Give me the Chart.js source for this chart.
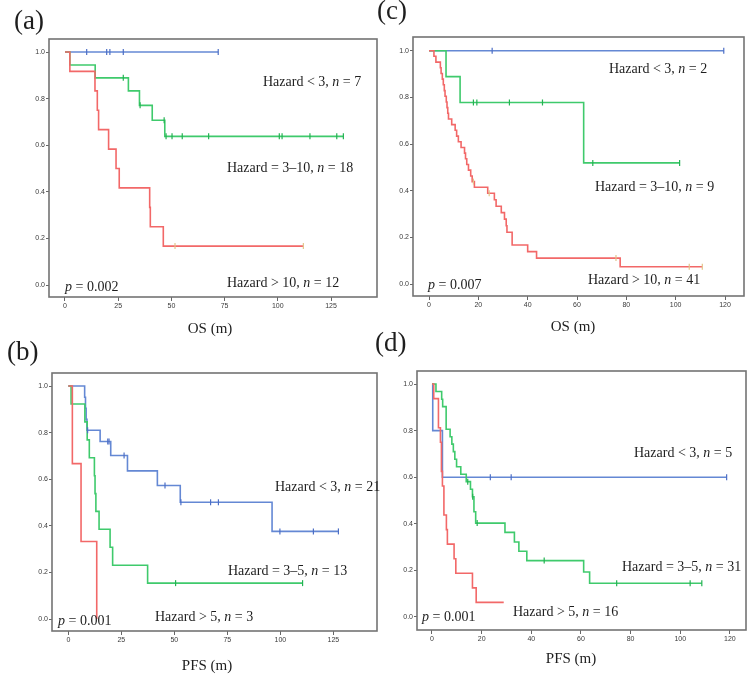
<!DOCTYPE html>
<html>
<head>
<meta charset="utf-8">
<script src="https://cdn.jsdelivr.net/npm/chart.js@4.4.0/dist/chart.umd.min.js"></script>
<style>
  body { margin: 0; background: #fff; }
  #wrap { position: relative; width: 753px; height: 677px; }
  #wrap canvas { position: absolute; left: 0; top: 0; }
</style>
</head>
<body>
<div id="wrap">
  <canvas id="pa" width="753" height="677"></canvas>
  <canvas id="pb" width="753" height="677"></canvas>
  <canvas id="pc" width="753" height="677"></canvas>
  <canvas id="pd" width="753" height="677"></canvas>
</div>
<script>
// tick labels
const yTickVals = [0, 0.2, 0.4, 0.6, 0.8, 1.0];
const xTicks125 = [0, 25, 50, 75, 100, 125];
const xTicks120 = [0, 20, 40, 60, 80, 100, 120];

// (a) OS, hazard groups <3 / 3-10 / >10
const aLowT = [0, 72];
const aLowS = [1, 1];
const aLowCens = [10.2, 19.6, 21.1, 27.4, 72];
const aMidT = [0, 2.3, 14.2, 29.8, 35.0, 41.0, 46.9, 130.8];
const aMidS = [1, 0.944, 0.889, 0.833, 0.771, 0.707, 0.638, 0.638];
const aMidCens = [27.4, 35.3, 46.6, 47.5, 50.3, 55.1, 67.5, 100.7, 102.0, 115.1, 127.7, 130.8];
const aHighT = [0, 2.3, 14.1, 15.2, 15.8, 20.5, 24.0, 25.5, 39.8, 40.1, 46.2, 112];
const aHighS = [1, 0.917, 0.833, 0.75, 0.667, 0.583, 0.5, 0.417, 0.333, 0.25, 0.167, 0.167];
const aHighCens = [51.7, 112];

// (b) PFS, hazard groups <3 / 3-5 / >5
const bLowT = [0, 7.7, 8.1, 8.4, 8.8, 15.0, 20.0, 27.9, 42.0, 52.8, 96.1, 127.4];
const bLowS = [1, 0.952, 0.905, 0.857, 0.810, 0.762, 0.702, 0.636, 0.573, 0.501, 0.376, 0.376];
const bLowCens = [9.1, 18.6, 19.2, 26.3, 45.6, 53.1, 67.1, 70.8, 99.8, 115.6, 127.4];
const bMidT = [0, 1.3, 7.8, 8.9, 9.9, 12.3, 12.6, 13.0, 14.5, 19.7, 20.9, 37.4, 110.5];
const bMidS = [1, 0.923, 0.846, 0.769, 0.692, 0.615, 0.538, 0.462, 0.385, 0.308, 0.231, 0.154, 0.154];
const bMidCens = [50.6, 110.5];
const bHighT = [0, 1.9, 6.0, 13.4];
const bHighS = [1, 0.667, 0.333, 0];
const bHighCens = [];

// (c) OS, hazard groups <3 / 3-10 / >10
const cLowT = [0, 119.5];
const cLowS = [1, 1];
const cLowCens = [25.6, 119.5];
const cMidT = [0, 6.9, 12.6, 62.7, 101.6];
const cMidS = [1, 0.889, 0.778, 0.519, 0.519];
const cMidCens = [18.0, 19.4, 32.6, 46.0, 66.4, 101.6];
const cHighT = [0, 2.0, 2.8, 4.6, 4.9, 5.4, 5.8, 6.2, 6.5, 7.0, 7.3, 7.6, 7.9, 9.2, 10.6, 11.2, 11.9, 13.0, 14.4, 14.8,
  15.3, 16.0, 16.9, 17.5, 18.4, 23.8, 26.5, 27.2, 29.3, 30.6, 31.3, 31.6, 33.7, 40.0, 43.6, 77.5, 110.8];
const cHighS = [1, 0.976, 0.951, 0.927, 0.902, 0.878, 0.854, 0.829, 0.805, 0.780, 0.756, 0.732, 0.707, 0.683, 0.659, 0.634, 0.610, 0.585, 0.561, 0.537,
  0.512, 0.488, 0.463, 0.439, 0.415, 0.389, 0.361, 0.333, 0.306, 0.278, 0.250, 0.222, 0.167, 0.139, 0.111, 0.074, 0.074];
const cHighCens = [18.0, 24.4, 75.8, 105.5, 110.8];

// (d) PFS, hazard groups <3 / 3-5 / >5
const dLowT = [0, 0.3, 4.2, 118.7];
const dLowS = [1, 0.8, 0.6, 0.6];
const dLowCens = [23.5, 31.9, 118.7];
const dMidT = [0, 1.6, 3.9, 4.3, 5.7, 7.3, 8.0, 8.6, 9.2, 9.9, 11.6, 13.8, 15.5, 16.3, 16.9, 17.6, 29.4, 33.2, 35.0, 38.2, 61.1, 63.5, 108.7];
const dMidS = [1, 0.968, 0.935, 0.903, 0.806, 0.774, 0.742, 0.710, 0.677, 0.645, 0.613, 0.581, 0.548, 0.516, 0.452, 0.403, 0.363, 0.322, 0.282, 0.242, 0.193, 0.145, 0.145];
const dMidCens = [14.4, 16.4, 18.2, 45.2, 74.4, 104.0, 108.7];
const dHighT = [0, 0.7, 2.6, 3.4, 3.8, 4.2, 4.8, 5.8, 6.2, 8.9, 9.6, 16.3, 17.8, 28.9];
const dHighS = [1, 0.9375, 0.8125, 0.75, 0.625, 0.5625, 0.4375, 0.375, 0.3125, 0.25, 0.1875, 0.125, 0.0625, 0.0625];
const dHighCens = [];

const BLUE = '#6488d4', GREEN = '#3fca6c', RED = '#f26868';
const BLUE_C = '#4d6fc6', GREEN_C = '#23b352', RED_C = '#e2c58c';
const SERIF = '"Liberation Serif", "DejaVu Serif", serif';

function stepPoints(ts, ss) {
    return ts.map((t, i) => ({ x: t, y: ss[i] }));
}

// censor marks sit on the curve level at that time
function censorPoints(ts, ss, cens) {
    return cens.map(c => {
        let s = ss[0];
        for (let i = 0; i < ts.length; i++) if (ts[i] <= c) s = ss[i];
        return { x: c, y: s };
    });
}

function curve(ts, ss, color) {
    return { type: 'line', data: stepPoints(ts, ss), borderColor: color, borderWidth: 1.6,
             stepped: true, pointRadius: 0, fill: false, order: 2 };
}

function marks(ts, ss, cens, color) {
    return { type: 'scatter', data: censorPoints(ts, ss, cens), borderColor: color, backgroundColor: color,
             pointStyle: 'line', rotation: 90, pointRadius: 3, borderWidth: 1.2, showLine: false, order: 1 };
}

const framePlugin = {
    id: 'frame',
    afterDraw(chart) {
        const { ctx, chartArea: a } = chart;
        ctx.save();
        ctx.strokeStyle = '#737373';
        ctx.lineWidth = 1.6;
        ctx.strokeRect(a.left, a.top, a.right - a.left, a.bottom - a.top);
        ctx.restore();
    }
};

const textPlugin = {
    id: 'panelText',
    afterDraw(chart, args, opts) {
        const ctx = chart.ctx;
        ctx.save();
        ctx.fillStyle = '#1e1e1e';
        ctx.textBaseline = 'alphabetic';
        (opts.items || []).forEach(it => {
            const size = it.size || 14;
            let total = 0;
            it.parts.forEach(p => {
                ctx.font = (p[1] ? 'italic ' : '') + size + 'px ' + SERIF;
                total += ctx.measureText(p[0]).width;
            });
            let x = it.center ? it.x - total / 2 : it.x;
            it.parts.forEach(p => {
                ctx.font = (p[1] ? 'italic ' : '') + size + 'px ' + SERIF;
                ctx.fillText(p[0], x, it.y);
                x += ctx.measureText(p[0]).width;
            });
        });
        ctx.restore();
    }
};

const AXIS_W = 22, AXIS_H = 22;

function makePanel(id, p) {
    const [left, top, right, bottom] = p.box;
    new Chart(document.getElementById(id), {
        data: { datasets: p.datasets },
        options: {
            responsive: false,
            animation: false,
            events: [],
            layout: { padding: { left: left - AXIS_W, top: top, right: 753 - right, bottom: 677 - bottom - AXIS_H } },
            scales: {
                x: {
                    type: 'linear', min: p.xMin, max: p.xMax,
                    afterFit: s => { s.height = AXIS_H; },
                    afterBuildTicks: s => { s.ticks = p.xTicks.map(v => ({ value: v })); },
                    grid: { drawOnChartArea: false, tickLength: 4, color: '#666' },
                    border: { display: false },
                    ticks: { autoSkip: false, maxRotation: 0, padding: 1, color: '#3a3a3a',
                             font: { family: 'Liberation Sans', size: 7 } }
                },
                y: {
                    type: 'linear', min: p.yMin, max: p.yMax,
                    afterFit: s => { s.width = AXIS_W; },
                    afterBuildTicks: s => { s.ticks = yTickVals.map(v => ({ value: v })); },
                    grid: { drawOnChartArea: false, tickLength: 3, color: '#666' },
                    border: { display: false },
                    ticks: { padding: 1, color: '#3a3a3a', font: { family: 'Liberation Sans', size: 7 },
                             callback: v => v.toFixed(1) }
                }
            },
            plugins: {
                legend: { display: false },
                tooltip: { enabled: false },
                panelText: { items: p.texts }
            }
        },
        plugins: [framePlugin, textPlugin]
    });
}

function hz(op, nVal) {
    return [['Hazard ' + op + ', ', false], ['n', true], [' = ' + nVal, false]];
}

makePanel('pa', {
    box: [49, 39, 377, 297], xMin: -7.5, xMax: 146.6, yMin: -0.0515, yMax: 1.0558, xTicks: xTicks125,
    datasets: [
        curve(aHighT, aHighS, RED), curve(aMidT, aMidS, GREEN), curve(aLowT, aLowS, BLUE),
        marks(aHighT, aHighS, aHighCens, RED_C), marks(aMidT, aMidS, aMidCens, GREEN_C), marks(aLowT, aLowS, aLowCens, BLUE_C)
    ],
    texts: [
        { x: 14, y: 29, size: 27, parts: [['(a)', false]] },
        { x: 263, y: 85.5, parts: hz('< 3', '7') },
        { x: 227, y: 172, parts: hz('= 3–10', '18') },
        { x: 227, y: 286.5, parts: hz('> 10', '12') },
        { x: 65, y: 290.5, parts: [['p', true], [' = 0.002', false]] },
        { x: 210, y: 333, center: true, size: 15, parts: [['OS (m)', false]] }
    ]
});

makePanel('pb', {
    box: [52, 373, 377, 631], xMin: -7.7, xMax: 145.6, yMin: -0.0515, yMax: 1.056, xTicks: xTicks125,
    datasets: [
        curve(bHighT, bHighS, RED), curve(bMidT, bMidS, GREEN), curve(bLowT, bLowS, BLUE),
        marks(bHighT, bHighS, bHighCens, RED_C), marks(bMidT, bMidS, bMidCens, GREEN_C), marks(bLowT, bLowS, bLowCens, BLUE_C)
    ],
    texts: [
        { x: 7, y: 360, size: 27, parts: [['(b)', false]] },
        { x: 275, y: 491, parts: hz('< 3', '21') },
        { x: 228, y: 575, parts: hz('= 3–5', '13') },
        { x: 155, y: 620.5, parts: hz('> 5', '3') },
        { x: 58, y: 624.5, parts: [['p', true], [' = 0.001', false]] },
        { x: 207, y: 670, center: true, size: 15, parts: [['PFS (m)', false]] }
    ]
});

makePanel('pc', {
    box: [413, 37, 744, 296], xMin: -6.49, xMax: 127.7, yMin: -0.0514, yMax: 1.0587, xTicks: xTicks120,
    datasets: [
        curve(cHighT, cHighS, RED), curve(cMidT, cMidS, GREEN), curve(cLowT, cLowS, BLUE),
        marks(cHighT, cHighS, cHighCens, RED_C), marks(cMidT, cMidS, cMidCens, GREEN_C), marks(cLowT, cLowS, cLowCens, BLUE_C)
    ],
    texts: [
        { x: 377, y: 19, size: 27, parts: [['(c)', false]] },
        { x: 609, y: 73, parts: hz('< 3', '2') },
        { x: 595, y: 190.5, parts: hz('= 3–10', '9') },
        { x: 588, y: 284, parts: hz('> 10', '41') },
        { x: 428, y: 289, parts: [['p', true], [' = 0.007', false]] },
        { x: 573, y: 331, center: true, size: 15, parts: [['OS (m)', false]] }
    ]
});

makePanel('pd', {
    box: [417, 371, 746, 630], xMin: -6.04, xMax: 126.5, yMin: -0.056, yMax: 1.056, xTicks: xTicks120,
    datasets: [
        curve(dHighT, dHighS, RED), curve(dMidT, dMidS, GREEN), curve(dLowT, dLowS, BLUE),
        marks(dHighT, dHighS, dHighCens, RED_C), marks(dMidT, dMidS, dMidCens, GREEN_C), marks(dLowT, dLowS, dLowCens, BLUE_C)
    ],
    texts: [
        { x: 375, y: 351, size: 27, parts: [['(d)', false]] },
        { x: 634, y: 457, parts: hz('< 3', '5') },
        { x: 622, y: 570.5, parts: hz('= 3–5', '31') },
        { x: 513, y: 616, parts: hz('> 5', '16') },
        { x: 422, y: 620.5, parts: [['p', true], [' = 0.001', false]] },
        { x: 571, y: 663, center: true, size: 15, parts: [['PFS (m)', false]] }
    ]
});
</script>
</body>
</html>
